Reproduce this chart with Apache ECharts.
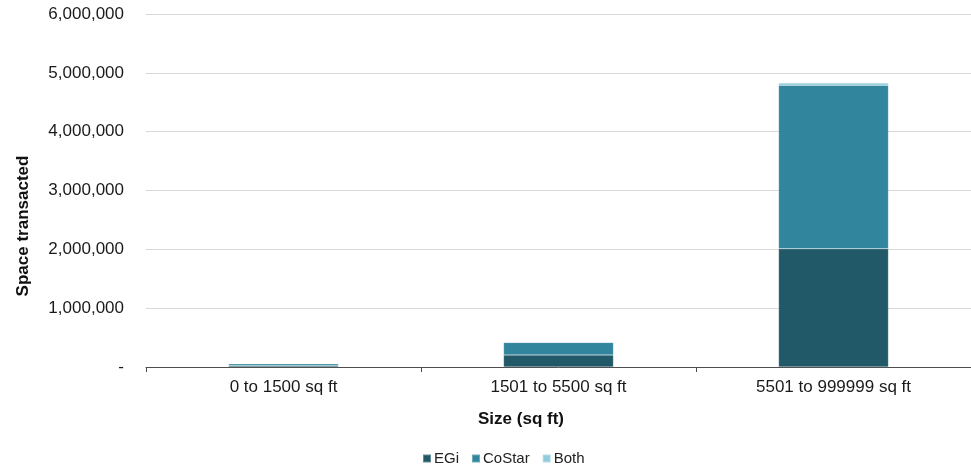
<!DOCTYPE html>
<html>
<head>
<meta charset="utf-8">
<script src="https://cdn.jsdelivr.net/npm/echarts@6/dist/echarts.min.js"></script>
<style>
html,body{margin:0;padding:0;background:#fff;}
#chart{width:971px;height:468px;}
</style>
</head>
<body>
<div id="chart"></div>
<script>
const categories = ['0 to 1500 sq ft', '1501 to 5500 sq ft', '5501 to 999999 sq ft'];
const egiValues = [20000, 204000, 2010000];
const costarValues = [35000, 214000, 2780000];
const bothValues = [3000, 5000, 40000];
const yTicks = [0, 1000000, 2000000, 3000000, 4000000, 5000000, 6000000];

const FONT = '"Liberation Sans", Arial, sans-serif';
const chart = echarts.init(document.getElementById('chart'));
const barStyle = { borderColor: 'rgba(255,255,255,0.3)', borderWidth: 0.6 };
chart.setOption({
  animation: false,
  textStyle: { fontFamily: FONT },
  grid: { left: 146, right: -8, top: 14, bottom: 101, containLabel: false },
  legend: {
    data: ['EGi', 'CoStar', 'Both'],
    left: 417, top: 446,
    itemWidth: 8, itemHeight: 8, itemGap: 12,
    icon: 'rect',
    textStyle: { fontFamily: FONT, fontSize: 15, color: '#222', padding: [0, 0, 0, -2] }
  },
  graphic: [
    { type: 'text', x: 521, y: 419, style: { text: 'Size (sq ft)', font: 'bold 17px ' + FONT, fill: '#111', textAlign: 'center', textVerticalAlign: 'middle' } },
    { type: 'text', x: 23, y: 226, rotation: Math.PI / 2, style: { text: 'Space transacted', font: 'bold 17px ' + FONT, fill: '#111', textAlign: 'center', textVerticalAlign: 'middle' } }
  ],
  xAxis: {
    type: 'category',
    data: categories,
    axisLine: { lineStyle: { color: '#4d4d4d', width: 1 } },
    axisTick: { show: true, alignWithLabel: false, length: 5, lineStyle: { color: '#4d4d4d' } },
    axisLabel: { fontSize: 17, color: '#1a1a1a', margin: 12, fontFamily: FONT },
    splitLine: { show: false }
  },
  yAxis: {
    type: 'value',
    min: yTicks[0], max: yTicks[yTicks.length - 1], interval: yTicks[1] - yTicks[0],
    axisLine: { show: false },
    axisTick: { show: false },
    axisLabel: {
      fontSize: 17, color: '#1a1a1a', margin: 22, fontFamily: FONT,
      formatter: v => v === 0 ? '-' : v.toLocaleString('en-US')
    },
    splitLine: { lineStyle: { color: '#d9d9d9', width: 1 } }
  },
  series: [
    { name: 'EGi', type: 'bar', stack: 's', data: egiValues, barWidth: '40%', itemStyle: Object.assign({ color: '#215968' }, barStyle) },
    { name: 'CoStar', type: 'bar', stack: 's', data: costarValues, barWidth: '40%', itemStyle: Object.assign({ color: '#31859c' }, barStyle) },
    { name: 'Both', type: 'bar', stack: 's', data: bothValues, barWidth: '40%', itemStyle: Object.assign({ color: '#93cddd' }, barStyle) }
  ]
});
</script>
</body>
</html>
